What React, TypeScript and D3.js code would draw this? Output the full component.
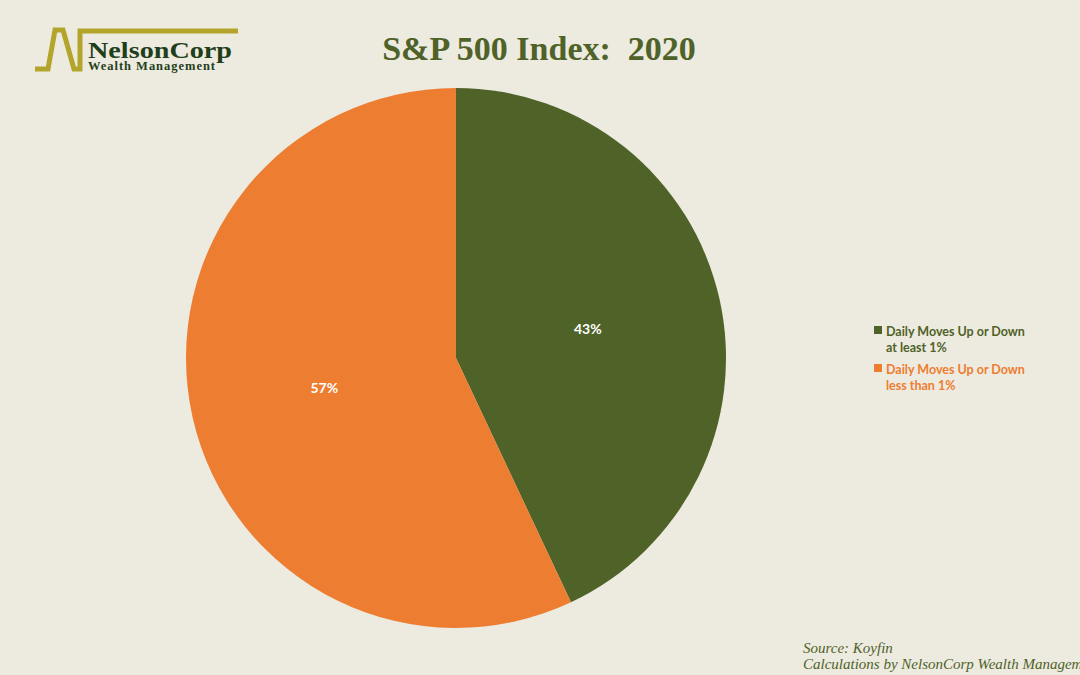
import React from "react";
import * as d3 from "d3";

const categories = ["Daily Moves Up or Down at least 1%", "Daily Moves Up or Down less than 1%"];
const legendLines = [["Daily Moves Up or Down", "at least 1%"], ["Daily Moves Up or Down", "less than 1%"]];
const values = [43, 57];
const colors = ["#4F6228", "#ED7D31"];
const title = "S&P 500 Index:  2020";
const sourceLines = ["Source: Koyfin", "Calculations by NelsonCorp Wealth Management"];

export default function App() {
  const W = 1080, H = 675;
  const cx = 456, cy = 358, r = 270;
  const pie = d3.pie<number>().sort(null).value((d) => d);
  const arcs = pie(values);
  const arc = d3.arc<d3.PieArcDatum<number>>().innerRadius(0).outerRadius(r);
  const labelArc = d3.arc<d3.PieArcDatum<number>>().innerRadius(r * 0.5).outerRadius(r * 0.5);
  return (
    <svg width={W} height={H} style={{ position: "absolute", left: 0, top: 0, background: "#EDEAE0" }}>
      <rect width={W} height={H} fill="#EDEAE0" />
      {/* logo */}
      <polyline points="35,69 48,69 55,30 63,30 74,69 80,69 80,31 238,31" fill="none" stroke="#B3A52B" strokeWidth={5} strokeLinejoin="miter" strokeMiterlimit={4} />
      <text x={88} y={58} textLength={144} lengthAdjust="spacingAndGlyphs" fontFamily="'Liberation Serif', serif" fontWeight="bold" fontSize={23} fill="#1F3F1A">NelsonCorp</text>
      <text x={88} y={70} textLength={127} lengthAdjust="spacing" fontFamily="'Liberation Serif', serif" fontWeight="bold" fontSize={12.5} fill="#1F3F1A">Wealth Management</text>
      <text x={539} y={60} textAnchor="middle" xmlSpace="preserve" style={{ whiteSpace: "pre" }} fontFamily="'Liberation Serif', serif" fontWeight="bold" fontSize={34} fill="#4F6228">{title}</text>
      <g transform={`translate(${cx},${cy})`}>
        {arcs.map((a, i) => (
          <path key={categories[i]} d={arc(a) || ""} fill={colors[i]} />
        ))}
        {arcs.map((a, i) => {
          const [x, y] = labelArc.centroid(a);
          return (
            <text key={"l" + i} x={x} y={y} textAnchor="middle" dominantBaseline="central" fontFamily="Lato, sans-serif" fontWeight="bold" fontSize={14} fill="#FFFFFF">
              {values[i]}%
            </text>
          );
        })}
      </g>
      {legendLines.map((lines, i) => (
        <g key={"lg" + i} transform={`translate(874,${331 + i * 38})`}>
          <rect x={0} y={-5} width={8} height={8} fill={colors[i]} />
          {lines.map((t, j) => (
            <text key={j} x={12} y={j * 16.5} dominantBaseline="central" fontFamily="Lato, sans-serif" fontWeight="bold" fontSize={12.5} fill={colors[i]}>{t}</text>
          ))}
        </g>
      ))}
      {sourceLines.map((t, i) => (
        <text key={"s" + i} x={803} y={653 + i * 16} fontFamily="'Liberation Serif', serif" fontStyle="italic" fontSize={15} fill="#4F6228">{t}</text>
      ))}
    </svg>
  );
}
